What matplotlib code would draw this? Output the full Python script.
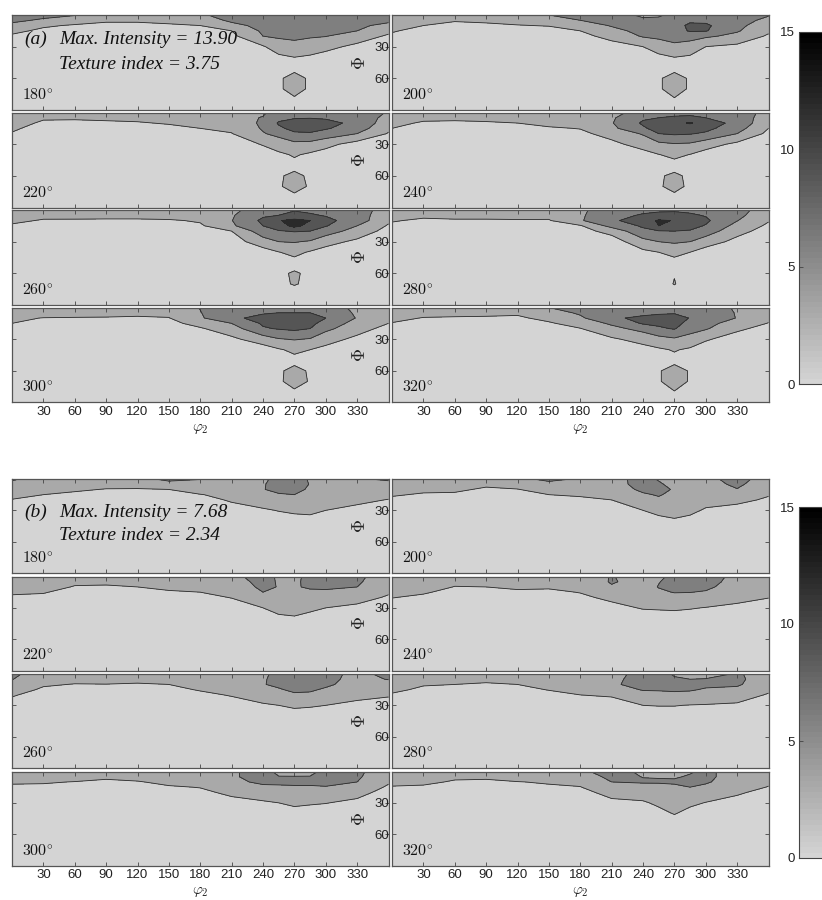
import numpy as np
import matplotlib
matplotlib.use("Agg")
import matplotlib.pyplot as plt
from matplotlib.colors import ListedColormap, Normalize
from matplotlib.cm import ScalarMappable

# ---------------- data ----------------
PHI2 = [0, 30, 60, 90, 120, 150, 180, 210, 240, 255, 270, 285, 300, 330, 360]
PHI = [0, 5, 10, 15, 20, 30, 40, 50, 60, 70, 80, 90]
LEVELS = [0, 3, 6, 9, 12, 15]
SECTIONS = [180, 200, 220, 240, 260, 280, 300, 320]
XTICKS = [30, 60, 90, 120, 150, 180, 210, 240, 270, 300, 330]
YTICKS = [30, 60]
CBAR_TICKS = [0, 5, 10, 15]
LABEL_A = ["(a)", "Max. Intensity = 13.90", "Texture index = 3.75"]
LABEL_B = ["(b)", "Max. Intensity = 7.68", "Texture index = 2.34"]

# each panel: one column (values down PHI) per PHI2 node
A180 = [
 [7.5,6.6,5.3,3.7,2.6,1.5,1.5,1.5,1.5,1.5,1.5,1.5],
 [6.8,5.6,3.4,2.4,1.7,1.5,1.5,1.5,1.5,1.5,1.5,1.5],
 [6.2,4.3,2.7,2.0,1.5,1.5,1.5,1.5,1.5,1.5,1.5,1.5],
 [4.5,3.3,2.5,1.7,1.5,1.5,1.5,1.5,1.5,1.5,1.5,1.5],
 [4.5,3.3,2.5,1.7,1.5,1.5,1.5,1.5,1.5,1.5,1.5,1.5],
 [4.5,3.6,2.7,2.0,1.5,1.5,1.5,1.5,1.5,1.5,1.5,1.5],
 [5.5,4.3,3.0,2.3,1.5,1.5,1.5,1.5,1.5,1.5,1.5,1.5],
 [7.5,6.6,5.1,3.0,2.3,1.5,1.5,1.5,1.5,1.5,1.5,1.5],
 [7.8,7.4,6.9,6.5,6.0,2.7,1.5,1.5,1.5,1.5,1.5,1.5],
 [8.0,7.6,7.2,6.8,6.4,4.6,2.4,1.5,2.6,2.6,1.5,1.5],
 [8.2,7.8,7.4,7.0,6.6,5.1,3.0,2.2,4.0,4.0,2.6,1.5],
 [8.0,7.6,7.2,6.8,6.3,4.6,2.6,1.5,2.6,2.6,1.5,1.5],
 [7.8,7.4,6.9,6.5,6.1,3.8,2.0,1.5,1.5,1.5,1.5,1.5],
 [7.5,7.0,6.5,6.0,4.5,2.3,1.5,1.5,1.5,1.5,1.5,1.5],
 [7.5,6.6,5.3,3.7,2.6,1.5,1.5,1.5,1.5,1.5,1.5,1.5],
]
A200 = [
 [4.5,4.1,3.6,3.2,2.6,1.5,1.5,1.5,1.5,1.5,1.5,1.5],
 [4.5,3.8,3.0,2.3,1.5,1.5,1.5,1.5,1.5,1.5,1.5,1.5],
 [4.5,3.2,2.4,1.6,1.5,1.5,1.5,1.5,1.5,1.5,1.5,1.5],
 [4.5,3.4,2.6,1.8,1.5,1.5,1.5,1.5,1.5,1.5,1.5,1.5],
 [4.5,3.7,2.9,2.1,1.7,1.5,1.5,1.5,1.5,1.5,1.5,1.5],
 [6.0,4.6,3.1,2.3,1.6,1.5,1.5,1.5,1.5,1.5,1.5,1.5],
 [6.8,6.0,4.5,3.0,2.3,1.5,1.5,1.5,1.5,1.5,1.5,1.5],
 [7.2,6.7,6.2,5.2,3.8,2.0,1.5,1.5,1.5,1.5,1.5,1.5],
 [5.5,6.5,7.0,6.8,6.3,3.0,1.5,1.5,1.5,1.5,1.5,1.5],
 [5.5,6.8,7.5,7.2,6.6,4.5,2.3,1.5,2.7,2.7,1.5,1.5],
 [7.0,7.8,8.0,7.6,7.2,5.3,3.0,2.2,4.0,4.0,2.8,1.5],
 [8.0,8.5,9.5,9.3,7.0,4.8,2.6,1.5,2.7,2.7,1.5,1.5],
 [7.8,8.3,9.5,9.2,6.5,3.0,1.5,1.5,1.5,1.5,1.5,1.5],
 [7.5,7.1,6.7,6.3,5.2,2.3,1.5,1.5,1.5,1.5,1.5,1.5],
 [6.2,5.3,4.4,3.5,2.6,1.5,1.5,1.5,1.5,1.5,1.5,1.5],
]
A220 = [
 [5.8,5.0,4.3,3.5,2.8,1.5,1.5,1.5,1.5,1.5,1.5,1.5],
 [4.5,3.4,2.5,1.8,1.5,1.5,1.5,1.5,1.5,1.5,1.5,1.5],
 [4.5,3.3,2.5,1.7,1.5,1.5,1.5,1.5,1.5,1.5,1.5,1.5],
 [4.5,3.5,2.6,1.9,1.5,1.5,1.5,1.5,1.5,1.5,1.5,1.5],
 [4.5,3.6,2.8,2.0,1.5,1.5,1.5,1.5,1.5,1.5,1.5,1.5],
 [5.0,4.1,3.2,2.4,1.7,1.5,1.5,1.5,1.5,1.5,1.5,1.5],
 [5.0,4.3,3.6,3.0,2.2,1.5,1.5,1.5,1.5,1.5,1.5,1.5],
 [5.3,4.7,4.1,3.5,2.9,1.5,1.5,1.5,1.5,1.5,1.5,1.5],
 [5.5,6.2,6.5,6.3,5.8,3.2,1.7,1.5,1.5,1.5,1.5,1.5],
 [7.5,8.2,9.3,8.5,6.8,4.5,2.4,1.5,2.7,2.7,1.5,1.5],
 [8.0,8.8,10.0,9.8,8.6,5.2,3.3,2.2,3.6,4.0,2.4,1.5],
 [8.0,8.9,10.0,9.7,8.8,5.0,2.5,1.5,2.6,2.7,1.5,1.5],
 [7.8,8.7,9.8,9.3,7.8,3.9,1.8,1.5,1.5,1.5,1.5,1.5],
 [7.5,8.0,8.3,7.5,6.0,1.8,1.5,1.5,1.5,1.5,1.5,1.5],
 [5.8,5.0,4.3,3.5,2.8,1.5,1.5,1.5,1.5,1.5,1.5,1.5],
]
A240 = [
 [5.0,4.3,3.7,3.0,2.3,1.5,1.5,1.5,1.5,1.5,1.5,1.5],
 [4.5,3.6,2.7,2.0,1.5,1.5,1.5,1.5,1.5,1.5,1.5,1.5],
 [4.5,3.5,2.6,1.9,1.5,1.5,1.5,1.5,1.5,1.5,1.5,1.5],
 [6.1,4.0,2.6,1.9,1.5,1.5,1.5,1.5,1.5,1.5,1.5,1.5],
 [6.2,4.6,3.0,2.3,1.5,1.5,1.5,1.5,1.5,1.5,1.5,1.5],
 [6.1,4.9,3.7,2.7,1.9,1.5,1.5,1.5,1.5,1.5,1.5,1.5],
 [5.0,4.4,3.8,3.1,2.4,1.5,1.5,1.5,1.5,1.5,1.5,1.5],
 [5.2,5.6,5.8,5.3,4.0,2.3,1.5,1.5,1.5,1.5,1.5,1.5],
 [7.0,8.6,9.4,8.6,6.3,4.1,2.0,1.5,1.5,1.5,1.5,1.5],
 [8.0,9.0,10.5,10.0,9.0,5.3,2.9,1.5,2.7,2.7,1.5,1.5],
 [8.3,9.3,11.0,10.5,9.4,5.8,3.7,2.0,3.5,3.8,2.4,1.5],
 [8.3,9.5,12.3,10.2,9.2,5.6,2.9,1.5,2.5,2.5,1.5,1.5],
 [8.0,9.0,10.3,9.8,8.6,4.3,1.8,1.5,1.5,1.5,1.5,1.5],
 [7.6,7.9,8.2,7.2,6.0,2.3,1.5,1.5,1.5,1.5,1.5,1.5],
 [5.0,4.3,3.7,3.0,2.3,1.5,1.5,1.5,1.5,1.5,1.5,1.5],
]
A260 = [
 [5.0,4.2,3.5,2.7,2.0,1.5,1.5,1.5,1.5,1.5,1.5,1.5],
 [4.5,3.6,2.8,2.0,1.5,1.5,1.5,1.5,1.5,1.5,1.5,1.5],
 [6.2,4.1,2.6,1.9,1.5,1.5,1.5,1.5,1.5,1.5,1.5,1.5],
 [6.2,3.9,2.6,1.8,1.5,1.5,1.5,1.5,1.5,1.5,1.5,1.5],
 [6.2,3.9,2.6,1.8,1.5,1.5,1.5,1.5,1.5,1.5,1.5,1.5],
 [6.2,4.2,2.7,2.0,1.5,1.5,1.5,1.5,1.5,1.5,1.5,1.5],
 [5.0,4.2,3.3,2.6,1.8,1.5,1.5,1.5,1.5,1.5,1.5,1.5],
 [5.3,5.7,5.9,5.5,3.0,1.5,1.5,1.5,1.5,1.5,1.5,1.5],
 [7.5,8.6,9.6,9.0,7.6,4.8,1.6,1.5,1.5,1.5,1.5,1.5],
 [8.5,9.0,11.8,10.5,8.8,6.0,2.9,1.5,2.5,2.4,1.5,1.5],
 [8.8,9.8,12.8,12.9,9.2,6.2,3.8,2.0,3.3,3.2,1.8,1.5],
 [8.5,9.3,12.0,10.8,9.0,5.7,2.7,1.5,2.5,2.4,1.5,1.5],
 [8.0,8.8,9.8,9.2,7.5,4.0,1.9,1.5,1.5,1.5,1.5,1.5],
 [7.0,7.3,7.5,6.0,4.7,2.4,1.5,1.5,1.5,1.5,1.5,1.5],
 [5.0,4.2,3.5,2.7,2.0,1.5,1.5,1.5,1.5,1.5,1.5,1.5],
]
A280 = [
 [4.9,4.1,3.2,2.5,1.8,1.5,1.5,1.5,1.5,1.5,1.5,1.5],
 [4.5,3.5,2.6,1.9,1.5,1.5,1.5,1.5,1.5,1.5,1.5,1.5],
 [6.2,4.1,2.6,1.9,1.5,1.5,1.5,1.5,1.5,1.5,1.5,1.5],
 [6.2,4.1,2.6,1.9,1.5,1.5,1.5,1.5,1.5,1.5,1.5,1.5],
 [6.2,4.2,2.7,2.0,1.5,1.5,1.5,1.5,1.5,1.5,1.5,1.5],
 [4.8,3.7,2.8,2.0,1.5,1.5,1.5,1.5,1.5,1.5,1.5,1.5],
 [5.5,5.6,5.7,2.7,2.0,1.5,1.5,1.5,1.5,1.5,1.5,1.5],
 [7.5,8.0,8.4,7.0,4.0,1.5,1.5,1.5,1.5,1.5,1.5,1.5],
 [8.3,9.3,10.8,9.4,8.3,5.0,2.3,1.5,1.5,1.5,1.5,1.5],
 [8.5,9.8,12.3,12.0,8.8,6.0,3.0,1.5,2.0,2.0,1.5,1.5],
 [8.6,9.9,11.9,11.0,9.0,6.4,3.8,2.1,2.9,3.1,2.0,1.5],
 [8.4,9.4,10.3,9.8,8.8,6.0,3.0,1.5,2.0,2.0,1.5,1.5],
 [8.0,8.8,9.5,8.8,7.5,4.5,1.6,1.5,1.5,1.5,1.5,1.5],
 [6.8,6.7,6.1,5.0,4.0,2.1,1.5,1.5,1.5,1.5,1.5,1.5],
 [4.9,4.1,3.2,2.5,1.8,1.5,1.5,1.5,1.5,1.5,1.5,1.5],
]
A300 = [
 [5.0,4.3,3.6,3.0,2.2,1.5,1.5,1.5,1.5,1.5,1.5,1.5],
 [6.2,4.5,2.9,2.2,1.5,1.5,1.5,1.5,1.5,1.5,1.5,1.5],
 [6.2,4.3,2.8,2.0,1.5,1.5,1.5,1.5,1.5,1.5,1.5,1.5],
 [6.2,4.3,2.7,2.0,1.5,1.5,1.5,1.5,1.5,1.5,1.5,1.5],
 [4.5,3.6,2.7,2.0,1.5,1.5,1.5,1.5,1.5,1.5,1.5,1.5],
 [4.5,3.7,2.9,2.2,1.5,1.5,1.5,1.5,1.5,1.5,1.5,1.5],
 [6.1,5.9,5.6,4.0,2.7,1.5,1.5,1.5,1.5,1.5,1.5,1.5],
 [7.5,8.0,8.6,6.0,4.6,2.4,1.5,1.5,1.5,1.5,1.5,1.5],
 [8.0,8.8,9.6,9.4,8.7,4.5,1.6,1.5,1.5,1.5,1.5,1.5],
 [8.2,9.0,10.2,10.0,9.2,5.8,2.7,1.5,2.6,2.6,1.5,1.5],
 [8.3,9.0,10.4,10.2,9.6,6.2,3.6,2.2,3.8,4.0,2.6,1.5],
 [8.1,9.0,10.0,9.7,9.0,5.8,3.0,1.5,2.7,2.8,1.5,1.5],
 [7.6,8.4,9.0,8.0,6.8,4.0,2.3,1.5,1.5,1.5,1.5,1.5],
 [5.2,5.5,5.8,4.8,4.0,2.4,1.5,1.5,1.5,1.5,1.5,1.5],
 [5.0,4.3,3.6,3.0,2.2,1.5,1.5,1.5,1.5,1.5,1.5,1.5],
]
A320 = [
 [5.0,4.3,3.6,2.9,2.1,1.5,1.5,1.5,1.5,1.5,1.5,1.5],
 [4.5,3.7,2.9,2.2,1.5,1.5,1.5,1.5,1.5,1.5,1.5,1.5],
 [4.5,3.6,2.8,2.0,1.5,1.5,1.5,1.5,1.5,1.5,1.5,1.5],
 [4.5,3.6,2.7,2.0,1.5,1.5,1.5,1.5,1.5,1.5,1.5,1.5],
 [4.5,3.4,2.6,1.8,1.5,1.5,1.5,1.5,1.5,1.5,1.5,1.5],
 [6.0,4.8,3.7,2.7,1.9,1.5,1.5,1.5,1.5,1.5,1.5,1.5],
 [7.0,6.4,5.5,4.1,2.9,1.5,1.5,1.5,1.5,1.5,1.5,1.5],
 [7.6,8.2,8.7,6.5,5.1,2.6,1.5,1.5,1.5,1.5,1.5,1.5],
 [7.8,8.5,9.4,9.3,7.0,4.0,2.0,1.5,1.5,1.5,1.5,1.5],
 [8.0,8.7,9.7,9.5,8.6,4.9,2.6,1.5,2.8,2.8,1.5,1.5],
 [8.0,8.8,9.9,9.7,9.2,5.6,3.2,2.3,4.0,4.0,2.9,1.5],
 [7.8,8.4,8.9,8.3,7.3,4.7,2.6,1.5,2.8,2.8,1.5,1.5],
 [7.5,7.8,7.6,7.0,6.3,3.3,1.7,1.5,1.5,1.5,1.5,1.5],
 [5.6,5.8,5.9,4.6,3.5,1.8,1.5,1.5,1.5,1.5,1.5,1.5],
 [5.0,4.3,3.6,2.9,2.1,1.5,1.5,1.5,1.5,1.5,1.5,1.5],
]

B180 = [
 [6.3,5.4,4.6,3.7,2.9,1.5,1.5,1.5,1.5,1.5,1.5,1.5],
 [5.0,4.3,3.7,3.0,2.3,1.5,1.5,1.5,1.5,1.5,1.5,1.5],
 [4.5,3.9,3.3,2.6,1.8,1.5,1.5,1.5,1.5,1.5,1.5,1.5],
 [4.5,3.7,2.9,2.1,1.7,1.5,1.5,1.5,1.5,1.5,1.5,1.5],
 [5.5,4.0,2.8,2.0,1.5,1.5,1.5,1.5,1.5,1.5,1.5,1.5],
 [6.4,5.4,3.0,2.3,1.5,1.5,1.5,1.5,1.5,1.5,1.5,1.5],
 [6.1,5.0,4.1,2.9,2.1,1.5,1.5,1.5,1.5,1.5,1.5,1.5],
 [5.0,4.6,4.2,3.7,3.3,2.0,1.5,1.5,1.5,1.5,1.5,1.5],
 [5.5,5.8,5.9,5.0,4.2,2.7,1.5,1.5,1.5,1.5,1.5,1.5],
 [6.8,6.9,6.6,5.8,4.9,3.1,2.0,1.5,1.5,1.5,1.5,1.5],
 [6.8,7.0,6.8,6.0,5.1,3.5,2.0,1.5,1.5,1.5,1.5,1.5],
 [5.8,5.9,5.6,5.1,4.6,3.6,2.2,1.5,1.5,1.5,1.5,1.5],
 [5.0,4.7,4.3,4.0,3.7,3.0,1.5,1.5,1.5,1.5,1.5,1.5],
 [5.8,5.2,4.6,4.1,3.6,2.3,1.5,1.5,1.5,1.5,1.5,1.5],
 [6.3,5.4,4.6,3.7,2.9,1.5,1.5,1.5,1.5,1.5,1.5,1.5],
]
B200 = [
 [5.0,4.4,3.8,3.2,2.6,1.5,1.5,1.5,1.5,1.5,1.5,1.5],
 [4.5,3.9,3.4,2.8,2.0,1.5,1.5,1.5,1.5,1.5,1.5,1.5],
 [6.2,4.9,3.5,2.6,1.8,1.5,1.5,1.5,1.5,1.5,1.5,1.5],
 [4.5,3.5,2.6,1.9,1.5,1.5,1.5,1.5,1.5,1.5,1.5,1.5],
 [5.5,4.1,2.9,2.1,1.7,1.5,1.5,1.5,1.5,1.5,1.5,1.5],
 [6.5,5.4,4.2,3.0,2.3,1.5,1.5,1.5,1.5,1.5,1.5,1.5],
 [5.8,5.0,4.1,3.3,2.5,1.5,1.5,1.5,1.5,1.5,1.5,1.5],
 [5.2,5.0,4.6,3.8,3.0,1.5,1.5,1.5,1.5,1.5,1.5,1.5],
 [6.8,6.9,6.5,5.7,4.9,3.0,1.5,1.5,1.5,1.5,1.5,1.5],
 [5.8,6.3,6.6,6.2,5.6,3.9,2.1,1.5,1.5,1.5,1.5,1.5],
 [5.0,5.3,5.8,5.4,5.0,4.0,2.7,1.5,1.5,1.5,1.5,1.5],
 [4.8,4.7,4.6,4.4,4.2,3.6,2.3,1.5,1.5,1.5,1.5,1.5],
 [5.4,5.0,4.6,4.2,3.9,2.7,1.5,1.5,1.5,1.5,1.5,1.5],
 [6.8,6.5,5.9,4.8,3.7,2.0,1.5,1.5,1.5,1.5,1.5,1.5],
 [5.0,4.4,3.8,3.2,2.6,1.5,1.5,1.5,1.5,1.5,1.5,1.5],
]
B220 = [
 [4.5,4.1,3.7,3.3,2.7,1.5,1.5,1.5,1.5,1.5,1.5,1.5],
 [6.2,5.2,4.2,3.2,2.4,1.5,1.5,1.5,1.5,1.5,1.5,1.5],
 [4.5,3.6,2.8,2.0,1.5,1.5,1.5,1.5,1.5,1.5,1.5,1.5],
 [4.5,3.5,2.7,1.9,1.5,1.5,1.5,1.5,1.5,1.5,1.5,1.5],
 [6.2,4.6,3.0,2.2,1.5,1.5,1.5,1.5,1.5,1.5,1.5,1.5],
 [4.8,4.1,3.4,2.8,2.0,1.5,1.5,1.5,1.5,1.5,1.5,1.5],
 [4.5,4.0,3.5,3.0,2.3,1.5,1.5,1.5,1.5,1.5,1.5,1.5],
 [5.5,5.0,4.5,3.9,3.1,1.7,1.5,1.5,1.5,1.5,1.5,1.5],
 [6.8,6.7,6.5,6.0,4.9,3.0,1.5,1.5,1.5,1.5,1.5,1.5],
 [5.7,5.8,5.9,5.5,5.0,4.0,2.4,1.5,1.5,1.5,1.5,1.5],
 [5.5,5.6,5.7,5.4,5.0,4.1,2.7,1.5,1.5,1.5,1.5,1.5],
 [6.6,6.6,6.4,5.4,4.8,3.6,2.1,1.5,1.5,1.5,1.5,1.5],
 [6.8,6.8,6.5,5.5,4.7,3.0,1.5,1.5,1.5,1.5,1.5,1.5],
 [6.6,6.4,6.0,5.0,4.0,2.4,1.5,1.5,1.5,1.5,1.5,1.5],
 [4.5,4.1,3.7,3.3,2.7,1.5,1.5,1.5,1.5,1.5,1.5,1.5],
]
B240 = [
 [5.8,5.2,4.5,3.8,3.1,1.6,1.5,1.5,1.5,1.5,1.5,1.5],
 [6.15,5.2,4.3,3.3,2.5,1.5,1.5,1.5,1.5,1.5,1.5,1.5],
 [4.5,3.7,2.9,2.2,1.5,1.5,1.5,1.5,1.5,1.5,1.5,1.5],
 [4.5,3.8,3.0,2.2,1.5,1.5,1.5,1.5,1.5,1.5,1.5,1.5],
 [6.2,4.8,3.5,2.5,1.8,1.5,1.5,1.5,1.5,1.5,1.5,1.5],
 [4.8,4.0,3.3,2.5,1.8,1.5,1.5,1.5,1.5,1.5,1.5,1.5],
 [5.0,4.4,3.8,3.1,2.5,1.5,1.5,1.5,1.5,1.5,1.5,1.5],
 [6.1,6.2,5.8,4.6,3.6,2.2,1.5,1.5,1.5,1.5,1.5,1.5],
 [5.2,5.2,5.0,4.6,4.2,3.2,1.7,1.5,1.5,1.5,1.5,1.5],
 [5.6,5.9,6.1,5.6,5.0,3.3,1.8,1.5,1.5,1.5,1.5,1.5],
 [6.5,6.8,6.7,6.1,5.3,3.4,1.9,1.5,1.5,1.5,1.5,1.5],
 [6.7,6.8,6.6,6.05,5.2,3.2,1.7,1.5,1.5,1.5,1.5,1.5],
 [6.8,6.8,6.5,5.8,5.0,2.9,1.5,1.5,1.5,1.5,1.5,1.5],
 [5.5,5.2,4.8,4.3,3.8,2.4,1.5,1.5,1.5,1.5,1.5,1.5],
 [5.8,5.2,4.5,3.8,3.1,1.6,1.5,1.5,1.5,1.5,1.5,1.5],
]
B260 = [
 [6.5,6.1,5.1,4.2,3.3,1.8,1.5,1.5,1.5,1.5,1.5,1.5],
 [4.8,4.0,3.3,2.6,1.8,1.5,1.5,1.5,1.5,1.5,1.5,1.5],
 [4.5,3.7,2.9,2.2,1.5,1.5,1.5,1.5,1.5,1.5,1.5,1.5],
 [6.2,4.5,2.9,2.2,1.5,1.5,1.5,1.5,1.5,1.5,1.5,1.5],
 [4.5,3.6,2.8,2.0,1.5,1.5,1.5,1.5,1.5,1.5,1.5,1.5],
 [4.5,3.8,3.0,2.3,1.5,1.5,1.5,1.5,1.5,1.5,1.5,1.5],
 [6.1,5.0,4.2,3.2,2.4,1.5,1.5,1.5,1.5,1.5,1.5,1.5],
 [5.0,4.6,4.2,3.8,3.2,1.8,1.5,1.5,1.5,1.5,1.5,1.5],
 [5.6,5.8,5.9,5.4,4.6,2.6,1.5,1.5,1.5,1.5,1.5,1.5],
 [6.6,6.6,6.4,5.8,5.0,3.0,1.5,1.5,1.5,1.5,1.5,1.5],
 [7.0,7.0,6.8,6.4,5.7,3.5,1.8,1.5,1.5,1.5,1.5,1.5],
 [6.9,6.9,6.7,6.3,5.6,3.3,1.7,1.5,1.5,1.5,1.5,1.5],
 [6.6,6.6,6.4,5.7,5.0,3.0,1.5,1.5,1.5,1.5,1.5,1.5],
 [5.5,5.3,5.0,4.5,3.8,2.3,1.5,1.5,1.5,1.5,1.5,1.5],
 [6.5,6.1,5.1,4.2,3.3,1.8,1.5,1.5,1.5,1.5,1.5,1.5],
]
B280 = [
 [5.6,5.2,4.5,3.6,2.7,1.5,1.5,1.5,1.5,1.5,1.5,1.5],
 [4.5,3.8,3.2,2.5,1.7,1.5,1.5,1.5,1.5,1.5,1.5,1.5],
 [6.2,4.6,3.0,2.3,1.5,1.5,1.5,1.5,1.5,1.5,1.5,1.5],
 [4.5,3.6,2.7,2.0,1.5,1.5,1.5,1.5,1.5,1.5,1.5,1.5],
 [4.5,3.8,3.0,2.3,1.6,1.5,1.5,1.5,1.5,1.5,1.5,1.5],
 [6.1,5.1,4.1,3.1,2.3,1.5,1.5,1.5,1.5,1.5,1.5,1.5],
 [5.0,4.6,4.0,3.5,3.0,1.5,1.5,1.5,1.5,1.5,1.5,1.5],
 [5.3,5.5,5.7,4.9,3.3,1.8,1.5,1.5,1.5,1.5,1.5,1.5],
 [6.7,6.8,6.7,6.15,5.2,3.0,1.5,1.5,1.5,1.5,1.5,1.5],
 [6.7,6.9,6.8,6.2,5.3,3.1,1.8,1.5,1.5,1.5,1.5,1.5],
 [5.8,6.2,6.6,6.3,5.5,3.1,1.8,1.5,1.5,1.5,1.5,1.5],
 [5.6,6.0,6.5,6.2,5.4,2.9,1.5,1.5,1.5,1.5,1.5,1.5],
 [5.6,6.05,6.4,5.8,5.1,2.8,1.5,1.5,1.5,1.5,1.5,1.5],
 [6.1,6.3,6.3,5.5,4.6,2.5,1.5,1.5,1.5,1.5,1.5,1.5],
 [5.6,5.2,4.5,3.6,2.7,1.5,1.5,1.5,1.5,1.5,1.5,1.5],
]
B300 = [
 [4.5,3.9,3.3,2.6,1.9,1.5,1.5,1.5,1.5,1.5,1.5,1.5],
 [6.15,4.7,3.3,2.4,1.7,1.5,1.5,1.5,1.5,1.5,1.5,1.5],
 [6.1,4.4,2.9,2.1,1.7,1.5,1.5,1.5,1.5,1.5,1.5,1.5],
 [4.5,3.4,2.6,1.8,1.5,1.5,1.5,1.5,1.5,1.5,1.5,1.5],
 [5.5,4.0,2.8,2.0,1.5,1.5,1.5,1.5,1.5,1.5,1.5,1.5],
 [6.2,5.0,3.7,2.7,2.0,1.5,1.5,1.5,1.5,1.5,1.5,1.5],
 [5.0,4.4,3.8,3.1,2.4,1.5,1.5,1.5,1.5,1.5,1.5,1.5],
 [5.8,5.8,5.5,4.5,3.6,2.1,1.5,1.5,1.5,1.5,1.5,1.5],
 [6.6,6.6,6.4,5.6,4.6,2.6,1.5,1.5,1.5,1.5,1.5,1.5],
 [5.6,6.05,6.4,5.7,4.9,3.0,1.5,1.5,1.5,1.5,1.5,1.5],
 [5.5,6.05,6.4,5.8,5.1,3.5,2.1,1.5,1.5,1.5,1.5,1.5],
 [5.6,6.05,6.4,5.8,5.0,3.3,1.8,1.5,1.5,1.5,1.5,1.5],
 [6.4,6.6,6.5,5.9,5.0,3.1,1.6,1.5,1.5,1.5,1.5,1.5],
 [6.5,6.4,6.0,5.0,4.0,2.3,1.5,1.5,1.5,1.5,1.5,1.5],
 [4.5,3.9,3.3,2.6,1.9,1.5,1.5,1.5,1.5,1.5,1.5,1.5],
]
B320 = [
 [4.5,4.0,3.4,2.9,2.1,1.5,1.5,1.5,1.5,1.5,1.5,1.5],
 [6.2,4.9,3.6,2.6,1.9,1.5,1.5,1.5,1.5,1.5,1.5,1.5],
 [4.5,3.5,2.7,1.9,1.5,1.5,1.5,1.5,1.5,1.5,1.5,1.5],
 [4.5,3.4,2.6,1.8,1.5,1.5,1.5,1.5,1.5,1.5,1.5,1.5],
 [6.1,4.4,2.9,2.1,1.7,1.5,1.5,1.5,1.5,1.5,1.5,1.5],
 [4.5,3.9,3.3,2.6,1.9,1.5,1.5,1.5,1.5,1.5,1.5,1.5],
 [5.6,4.7,3.7,2.9,2.1,1.5,1.5,1.5,1.5,1.5,1.5,1.5],
 [6.8,6.6,6.0,5.0,4.0,2.3,1.5,1.5,1.5,1.5,1.5,1.5],
 [5.6,5.95,6.2,5.3,4.6,2.6,1.5,1.5,1.5,1.5,1.5,1.5],
 [5.5,5.9,6.2,5.4,4.9,3.6,2.1,1.5,1.5,1.5,1.5,1.5],
 [5.5,5.8,6.3,5.6,5.0,4.1,3.2,1.5,1.5,1.5,1.5,1.5],
 [5.8,6.2,6.5,6.0,5.2,3.6,2.1,1.5,1.5,1.5,1.5,1.5],
 [6.4,6.5,6.3,5.5,4.7,2.9,1.5,1.5,1.5,1.5,1.5,1.5],
 [5.2,5.0,4.6,4.0,3.4,2.0,1.5,1.5,1.5,1.5,1.5,1.5],
 [4.5,4.0,3.4,2.9,2.1,1.5,1.5,1.5,1.5,1.5,1.5,1.5],
]

GROUP_A = [A180, A200, A220, A240, A260, A280, A300, A320]
GROUP_B = [B180, B200, B220, B240, B260, B280, B300, B320]

# ---------------- styling ----------------
W, H = 822, 900
SANS = ["Liberation Sans", "DejaVu Sans"]
TEXT_SERIF = ["Liberation Serif", "DejaVu Serif"]
LINE_COL = "#2b2b2b"
SPINE_COL = "#555555"
TICK_FS = 9.5


def gray(v):
    g = 0.83 * (1.0 - v / 15.0)
    return (g, g, g)


FILLS = [gray(v) for v in LEVELS[:-1]]
CBAR_CMAP = ListedColormap([gray(v) for v in np.linspace(0.0, 15.0, 64)])

fig = plt.figure(figsize=(W / 100, H / 100), dpi=100)
fig.patch.set_facecolor("white")


def px_axes(x0, y0, w, h):
    return fig.add_axes([x0 / W, 1 - (y0 + h) / H, w / W, h / H])


X_LEFT, X_RIGHT, PW = 12.0, 392.0, 376.5


def draw_group(group, top0, ph, step, labels, lab_pos, cbar_box):
    for i, data in enumerate(group):
        r, c = divmod(i, 2)
        x0 = X_LEFT if c == 0 else X_RIGHT
        y0 = top0 + r * step
        ax = px_axes(x0, y0, PW, ph)
        Z = np.array(data).T
        ax.contourf(PHI2, PHI, Z, levels=LEVELS, colors=FILLS)
        ax.contour(PHI2, PHI, Z, levels=LEVELS[1:-1], colors=LINE_COL,
                   linewidths=0.6)
        ax.set_xlim(0, 360)
        ax.set_ylim(90, 0)
        ax.set_xticks(XTICKS)
        ax.set_yticks(YTICKS)
        ax.tick_params(direction="in", length=3, width=0.6, color="#444444",
                       top=True, right=True, labelsize=TICK_FS, pad=2.0,
                       labelcolor="#222222")
        ax.tick_params(axis="x", pad=2.5)
        for s in ax.spines.values():
            s.set_color(SPINE_COL)
            s.set_linewidth(0.9)
        for lab in ax.get_xticklabels() + ax.get_yticklabels():
            lab.set_fontfamily(SANS)
        if r < 3:
            ax.set_xticklabels([])
        else:
            ax.text(0.5, -18.5 / ph, r"$\varphi_2$", transform=ax.transAxes,
                    ha="center", va="top", fontsize=11,
                    math_fontfamily="cm", color="#222222")
        if c == 0:
            ax.set_yticklabels([])
        else:
            ax.set_ylabel(r"$\Phi$", fontsize=13, math_fontfamily="cm",
                          color="#222222")
            ax.yaxis.set_label_coords(-23 / PW, 0.5)
        ax.text(10 / PW, 10 / ph, r"$%d^{\circ}$" % SECTIONS[i],
                transform=ax.transAxes, ha="left", va="baseline",
                fontsize=11.5, math_fontfamily="cm", color="#111111")
        if i == 0:
            tag, l1, l2 = labels
            b1, b2 = lab_pos
            kw = dict(transform=ax.transAxes, ha="left", va="baseline",
                      fontsize=14, style="italic", family=TEXT_SERIF,
                      color="#111111")
            ax.text(12 / PW, 1 - b1 / ph, tag, **kw)
            ax.text(47 / PW, 1 - b1 / ph, l1, **kw)
            ax.text(47 / PW, 1 - b2 / ph, l2, **kw)
    # colorbar
    cax = px_axes(*cbar_box)
    sm = ScalarMappable(norm=Normalize(0, 15), cmap=CBAR_CMAP)
    cb = fig.colorbar(sm, cax=cax, ticks=CBAR_TICKS)
    cb.outline.set_edgecolor("#444444")
    cb.outline.set_linewidth(0.8)
    cax.yaxis.set_ticks_position("left")
    cax.yaxis.set_label_position("left")
    cax.tick_params(direction="in", length=3, width=0.6, labelsize=TICK_FS,
                    pad=3, color="#444444", labelcolor="#222222")
    for lab in cax.get_yticklabels():
        lab.set_fontfamily(SANS)


draw_group(GROUP_A, 15.0, 95.0, 97.5, LABEL_A, (29, 54), (799, 32, 35, 352))
draw_group(GROUP_B, 479.0, 94.0, 97.5, LABEL_B, (38, 61), (799, 507, 35, 351))

fig.savefig("out.png", dpi=100, facecolor="white")
